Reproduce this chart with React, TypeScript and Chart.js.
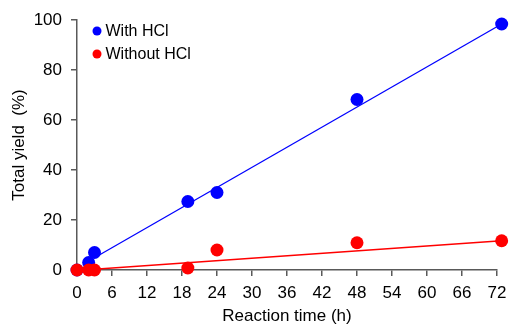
import React, { useEffect, useRef } from "react";
import { Chart, registerables } from "chart.js";

Chart.register(...registerables);

const withHclTime = [0, 2, 3, 19, 24, 48, 72.8];
const withHclYield = [0, 3, 7, 27.4, 31, 68.2, 98.4];
const withoutHclTime = [0, 2, 3, 19, 24, 48, 72.8];
const withoutHclYield = [0, 0, 0, 0.8, 8, 10.9, 11.7];
const withHclFitTime = [3, 72.8];
const withHclFitYield = [4.9, 98.4];
const withoutHclFitTime = [3, 72.8];
const withoutHclFitYield = [0.3, 11.7];
const seriesLabels = ["With HCl", "Without HCl"];
const xTitle = "Reaction time (h)";
const yTitle = "Total yield  (%)";

const FONT = "'Liberation Sans', Arial, sans-serif";
const AXIS = "#595959";

const toPts = (xs: number[], ys: number[]) => xs.map((x, i) => ({ x, y: ys[i] }));

const legendPlugin = {
  id: "insideLegend",
  afterDraw(chart: any) {
    const { ctx, chartArea } = chart;
    const items = chart.data.datasets
      .filter((d: any) => d.legendRank !== undefined)
      .sort((a: any, b: any) => a.legendRank - b.legendRank);
    ctx.save();
    ctx.font = `16px ${FONT}`;
    ctx.textBaseline = "middle";
    ctx.textAlign = "left";
    items.forEach((d: any, i: number) => {
      const cy = chartArea.top + 11 + i * 23;
      const cx = chartArea.left + 20;
      ctx.beginPath();
      ctx.fillStyle = d.backgroundColor;
      ctx.arc(cx, cy, 4.5, 0, Math.PI * 2);
      ctx.fill();
      ctx.fillStyle = "#000";
      ctx.fillText(d.label, cx + 8.5, cy + 1);
    });
    ctx.restore();
  },
};

export default function App() {
  const ref = useRef<HTMLCanvasElement>(null);
  useEffect(() => {
    const canvas = ref.current!;
    const chart = new Chart(canvas, {
      type: "scatter",
      data: {
        datasets: [
          {
            label: seriesLabels[1],
            legendRank: 1,
            data: toPts(withoutHclTime, withoutHclYield),
            backgroundColor: "#ff0000",
            borderColor: "#ff0000",
            pointRadius: 6.5,
            pointBorderWidth: 0,
            showLine: false,
            clip: false,
          } as any,
          {
            label: seriesLabels[0],
            legendRank: 0,
            data: toPts(withHclTime, withHclYield),
            backgroundColor: "#0000ff",
            borderColor: "#0000ff",
            pointRadius: 6.5,
            pointBorderWidth: 0,
            showLine: false,
            clip: false,
          } as any,
          {
            label: "fit1",
            data: toPts(withHclFitTime, withHclFitYield),
            borderColor: "#0000ff",
            backgroundColor: "#0000ff",
            borderWidth: 1.3,
            pointRadius: 0,
            showLine: true,
            clip: false,
          } as any,
          {
            label: "fit2",
            data: toPts(withoutHclFitTime, withoutHclFitYield),
            borderColor: "#ff0000",
            backgroundColor: "#ff0000",
            borderWidth: 1.3,
            pointRadius: 0,
            showLine: true,
            clip: false,
          } as any,
        ],
      },
      options: {
        responsive: false,
        animation: false,
        events: [],
        layout: { padding: { top: 20, right: 14, left: 0, bottom: 0 } },
        plugins: { legend: { display: false }, tooltip: { enabled: false } },
        scales: {
          x: {
            type: "linear",
            min: 0,
            max: 72,
            afterFit: (s: any) => { s.height = 56; s.paddingLeft = 0; s.paddingRight = 0; },
            border: { display: true, color: AXIS, width: 1.5 },
            grid: { drawOnChartArea: false, drawTicks: true, tickLength: 6, color: AXIS, lineWidth: 1.5 },
            ticks: { stepSize: 6, color: "#000", padding: 7, font: { family: FONT, size: 17 }, maxRotation: 0, autoSkip: false },
            title: { display: true, text: xTitle, color: "#000", font: { family: FONT, size: 17 }, padding: { top: 0, bottom: -1 } },
          },
          y: {
            type: "linear",
            min: 0,
            max: 100,
            afterFit: (s: any) => { s.width = 77; s.paddingTop = 0; s.paddingBottom = 0; },
            border: { display: true, color: AXIS, width: 1.5 },
            grid: { drawOnChartArea: false, drawTicks: true, tickLength: 6, color: AXIS, lineWidth: 1.5 },
            ticks: { stepSize: 20, color: "#000", padding: 9, font: { family: FONT, size: 17 } },
            title: { display: true, text: yTitle, color: "#000", font: { family: FONT, size: 17 }, padding: { top: 9, bottom: 0 } },
          },
        },
      },
      plugins: [legendPlugin],
    } as any);
    return () => chart.destroy();
  }, []);
  return (
    <div style={{ position: "fixed", left: 0, top: 0, width: 511, height: 326, background: "#fff" }}>
      <canvas ref={ref} width={511} height={326} />
    </div>
  );
}
